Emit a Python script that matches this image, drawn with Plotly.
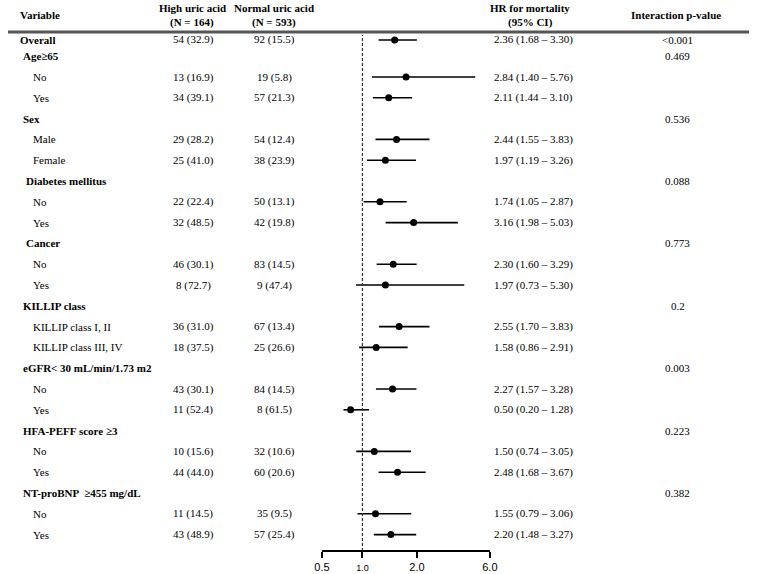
import plotly.graph_objects as go

# ---------------- data ----------------
labels = ["Overall", "Age≥65", "No", "Yes", "Sex", "Male", "Female",
          "Diabetes mellitus", "No", "Yes", "Cancer", "No", "Yes",
          "KILLIP class", "KILLIP class I, II", "KILLIP class III, IV",
          "eGFR< 30 mL/min/1.73 m2", "No", "Yes",
          "HFA-PEFF score ≥3", "No", "Yes",
          "NT-proBNP  ≥455 mg/dL", "No", "Yes"]
is_header = [True, True, False, False, True, False, False,
             True, False, False, True, False, False,
             True, False, False, True, False, False,
             True, False, False, True, False, False]
high_uric = ["54 (32.9)", "", "13 (16.9)", "34 (39.1)", "", "29 (28.2)", "25 (41.0)",
             "", "22 (22.4)", "32 (48.5)", "", "46 (30.1)", "8 (72.7)",
             "", "36 (31.0)", "18 (37.5)", "", "43 (30.1)", "11 (52.4)",
             "", "10 (15.6)", "44 (44.0)", "", "11 (14.5)", "43 (48.9)"]
normal_uric = ["92 (15.5)", "", "19 (5.8)", "57 (21.3)", "", "54 (12.4)", "38 (23.9)",
               "", "50 (13.1)", "42 (19.8)", "", "83 (14.5)", "9 (47.4)",
               "", "67 (13.4)", "25 (26.6)", "", "84 (14.5)", "8 (61.5)",
               "", "32 (10.6)", "60 (20.6)", "", "35 (9.5)", "57 (25.4)"]
hr = [2.36, None, 2.84, 2.11, None, 2.44, 1.97, None, 1.74, 3.16, None, 2.30, 1.97,
      None, 2.55, 1.58, None, 2.27, 0.50, None, 1.50, 2.48, None, 1.55, 2.20]
ci_low = [1.68, None, 1.40, 1.44, None, 1.55, 1.19, None, 1.05, 1.98, None, 1.60, 0.73,
          None, 1.70, 0.86, None, 1.57, 0.20, None, 0.74, 1.68, None, 0.79, 1.48]
ci_high = [3.30, None, 5.76, 3.10, None, 3.83, 3.26, None, 2.87, 5.03, None, 3.29, 5.30,
           None, 3.83, 2.91, None, 3.28, 1.28, None, 3.05, 3.67, None, 3.06, 3.27]
p_interaction = ["<0.001", "0.469", "", "", "0.536", "", "", "0.088", "", "", "0.773", "", "",
                 "0.2", "", "", "0.003", "", "", "0.223", "", "", "0.382", "", ""]
tick_vals = [-0.71, 1.0, 3.30, 6.38]
tick_labels = ["0.5", "<span style='font-size:9px'>1.0</span>", "2.0", "6.0"]

# ---------------- layout helpers ----------------
W, H = 757, 574
SERIF = "Liberation Serif, Times New Roman, serif"
FS = 11
rows = list(range(len(labels)))
row_y = [i + (0.22 if i == 0 else 0.0) for i in rows]

def px(x):
    return x / W

def py(y):
    return 1 - y / H

row_px = 20.8
r_top = 12 - 285 / row_px
r_bot = r_top + H / row_px

fig = go.Figure()

idx = [i for i in rows if hr[i] is not None]
fig.add_trace(go.Scatter(
    x=[hr[i] for i in idx],
    y=[row_y[i] for i in idx],
    mode="markers",
    marker=dict(color="black", size=7),
    error_x=dict(type="data", symmetric=False,
                 array=[ci_high[i] - hr[i] for i in idx],
                 arrayminus=[hr[i] - ci_low[i] for i in idx],
                 color="black", thickness=1.6, width=0),
    showlegend=False, hoverinfo="skip",
))

def font():
    return dict(family=SERIF, size=FS, color="black")

ann = []
for i in rows:
    y = row_y[i]
    if is_header[i]:
        x0 = 10 if i == 0 else (16 if labels[i] in ("Diabetes mellitus", "Cancer") else 13)
        txt = "<b>%s</b>" % labels[i]
    else:
        x0 = 24
        txt = labels[i]
    ann.append(dict(x=px(x0), y=y, xref="paper", yref="y", text=txt, showarrow=False,
                    xanchor="left", yanchor="middle", font=font()))
    if high_uric[i]:
        ann.append(dict(x=px(189), y=y, xref="paper", yref="y", text=high_uric[i], showarrow=False,
                        xanchor="center", yanchor="middle", font=font()))
    if normal_uric[i]:
        ann.append(dict(x=px(272), y=y, xref="paper", yref="y", text=normal_uric[i], showarrow=False,
                        xanchor="center", yanchor="middle", font=font()))
    if hr[i] is not None:
        t = "%.2f (%.2f – %.2f)" % (hr[i], ci_low[i], ci_high[i])
        ann.append(dict(x=px(494), y=y, xref="paper", yref="y", text=t, showarrow=False,
                        xanchor="left", yanchor="middle", font=font()))
    if p_interaction[i]:
        ann.append(dict(x=px(684), y=y, xref="paper", yref="y", text=p_interaction[i], showarrow=False,
                        xanchor="center", yanchor="middle", font=font()))

headers = [
    ("<b>Variable</b>", 10, 15, "left"),
    ("<b>High uric acid</b>", 188, 8, "center"),
    ("<b>(N = 164)</b>", 188, 22, "center"),
    ("<b>Normal uric acid</b>", 272, 8, "center"),
    ("<b>(N = 593)</b>", 272, 22, "center"),
    ("<b>HR for mortality</b>", 533, 8, "center"),
    ("<b>(95% CI)</b>", 534, 22, "center"),
    ("<b>Interaction p-value</b>", 682, 15, "center"),
]
for t, x0, y0, xa in headers:
    ann.append(dict(x=px(x0), y=py(y0), xref="paper", yref="paper", text=t, showarrow=False,
                    xanchor=xa, yanchor="middle", font=font()))

shapes = [
    dict(type="line", xref="paper", yref="paper", x0=0, x1=1, y0=py(32), y1=py(32),
         line=dict(color="#555555", width=3)),
    dict(type="line", xref="x", yref="paper", x0=1, x1=1, y0=py(551), y1=py(35),
         line=dict(color="#333333", width=1.2, dash="3px,2px")),
]

fig.update_layout(
    width=W, height=H,
    margin=dict(l=0, r=0, t=0, b=0),
    paper_bgcolor="white", plot_bgcolor="rgba(0,0,0,0)",
    annotations=ann, shapes=shapes,
    xaxis=dict(domain=[px(320.7), px(492.3)], range=[tick_vals[0], tick_vals[-1]],
               anchor="free", position=py(551),
               showline=True, linecolor="black", linewidth=2,
               ticks="outside", ticklen=6, tickwidth=2, tickcolor="black",
               tickvals=tick_vals, ticktext=tick_labels,
               tickfont=dict(family="Liberation Sans", size=11, color="black"),
               showgrid=False, zeroline=False, fixedrange=True),
    yaxis=dict(domain=[0, 1], range=[r_bot, r_top], visible=False,
               showgrid=False, zeroline=False, fixedrange=True),
)

fig.write_html("out.html")
